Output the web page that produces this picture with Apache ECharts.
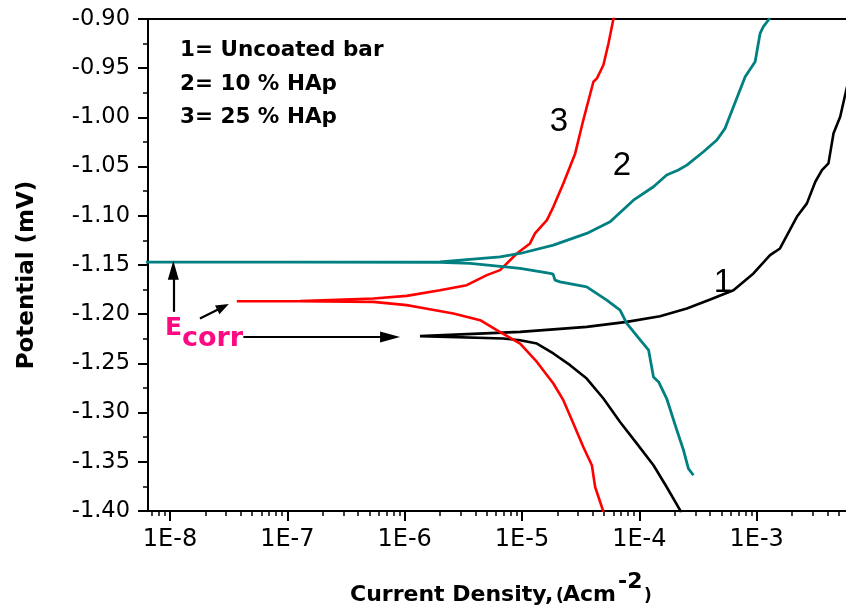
<!DOCTYPE html>
<html><head><meta charset="utf-8">
<script src="https://cdn.jsdelivr.net/npm/echarts@6/dist/echarts.min.js"></script>
<style>html,body{margin:0;padding:0;background:#fff}#c{width:846px;height:614px}</style>
</head><body><div id="c"></div>
<script>
// ---- data (current density A/cm2, potential V) ----
const uncoatedCurrent = [2.26e-4, 2.23e-4, 1.71e-4, 1.32e-4, 9.53e-5, 6.85e-5, 4.94e-5, 3.56e-5, 2.57e-5, 1.85e-5, 1.34e-5, 9.64e-6, 6.93e-6, 1.35e-6, 1.31e-6, 1.35e-6, 9.64e-6, 3.56e-5, 7.81e-5, 1.50e-4, 2.54e-4, 4.02e-4, 6.34e-4, 9.39e-4, 1.30e-3, 1.58e-3, 2.20e-3, 2.68e-3, 3.16e-3, 3.60e-3, 4.09e-3, 4.52e-3, 5.15e-3, 5.80e-3, 6.30e-3];
const uncoatedPotential = [-1.4020, -1.3993, -1.3756, -1.3535, -1.3315, -1.3095, -1.2857, -1.2654, -1.2518, -1.2399, -1.2298, -1.2264, -1.2247, -1.2223, -1.2218, -1.2213, -1.2180, -1.2129, -1.2078, -1.2020, -1.1942, -1.1850, -1.1756, -1.1586, -1.1400, -1.1332, -1.1010, -1.0874, -1.0654, -1.0535, -1.0467, -1.0162, -0.9993, -0.9722, -0.9550];

const hap10Current = [2.89e-4, 2.62e-4, 2.38e-4, 2.09e-4, 1.71e-4, 1.46e-4, 1.32e-4, 1.20e-4, 1.02e-4, 7.81e-5, 6.85e-5, 5.28e-5, 3.56e-5, 2.11e-5, 1.91e-5, 1.84e-5, 1.74e-5, 9.64e-6, 3.61e-6, 2.00e-6, 1.28e-7, 5.50e-9, 1.28e-7, 2.00e-6, 6.50e-6, 9.64e-6, 1.85e-5, 3.56e-5, 5.64e-5, 8.91e-5, 1.32e-4, 1.71e-4, 2.15e-4, 2.54e-4, 3.52e-4, 4.58e-4, 5.38e-4, 6.34e-4, 7.98e-4, 9.70e-4, 1.07e-3, 1.14e-3, 1.26e-3, 1.30e-3];
const hap10Potential = [-1.3637, -1.3569, -1.3383, -1.3180, -1.2857, -1.2688, -1.2637, -1.2366, -1.2264, -1.2094, -1.1959, -1.1857, -1.1722, -1.1671, -1.1654, -1.1593, -1.1586, -1.1535, -1.1484, -1.1474, -1.1471, -1.1471, -1.1471, -1.1468, -1.1417, -1.1383, -1.1298, -1.1179, -1.1061, -1.0841, -1.0705, -1.0586, -1.0535, -1.0485, -1.0349, -1.0230, -1.0111, -0.9892, -0.9587, -0.9434, -0.9145, -0.9078, -0.9010, -0.8990];

const hap25Current = [4.95e-5, 4.20e-5, 3.94e-5, 3.33e-5, 2.74e-5, 2.25e-5, 1.85e-5, 1.34e-5, 9.64e-6, 6.10e-6, 4.40e-6, 2.60e-6, 1.35e-6, 1.04e-6, 5.41e-7, 1.28e-7, 3.71e-8, 1.28e-7, 5.41e-7, 1.04e-6, 2.00e-6, 3.38e-6, 5.01e-6, 6.50e-6, 9.04e-6, 1.17e-5, 1.29e-5, 1.63e-5, 1.85e-5, 2.25e-5, 2.84e-5, 3.33e-5, 4.06e-5, 4.35e-5, 4.94e-5, 5.46e-5, 6.01e-5, 6.10e-5];
const hap25Potential = [-1.4010, -1.3756, -1.3535, -1.3349, -1.3111, -1.2874, -1.2704, -1.2485, -1.2298, -1.2162, -1.2061, -1.1993, -1.1932, -1.1908, -1.1875, -1.1868, -1.1868, -1.1866, -1.1840, -1.1814, -1.1756, -1.1705, -1.1603, -1.1552, -1.1383, -1.1281, -1.1179, -1.1044, -1.0909, -1.0671, -1.0366, -1.0027, -0.9638, -0.9603, -0.9468, -0.9247, -0.9000, -0.8980];

const xTickValues = [1e-8, 1e-7, 1e-6, 1e-5, 1e-4, 1e-3];
const xTickLabels = ['1E-8', '1E-7', '1E-6', '1E-5', '1E-4', '1E-3'];
const legendLines = ['1= Uncoated bar', '2= 10 % HAp', '3= 25 % HAp'];
const curveLabels = ['1', '2', '3'];

// Ecorr arrows in data coordinates [current, potential]
const ecorrArrows = [
  [[1.067e-8, -1.1976], [1.067e-8, -1.1554]],
  [[1.80e-8, -1.2044], [2.83e-8, -1.1926]],
  [[4.22e-8, -1.2231], [7.51e-7, -1.2231]]
];
const ecorrArrowHeads = [[11, 19], [10, 13], [11, 20]];

// ---- build ----
const xMin = Math.pow(10, -8.1876), xMax = Math.pow(10, -2.2387);
const zip = (a, b) => a.map((v, i) => [v, b[i]]);
const minorVals = [];
for (let e = -9; e <= -3; e++) for (let k = 2; k <= 9; k++) {
  const v = k * Math.pow(10, e);
  if (v >= xMin && v <= xMax) minorVals.push(v);
}
const FONT = 'DejaVu Sans';
const chart = echarts.init(document.getElementById('c'), null, {renderer: 'canvas'});
const lineSeries = (name, cur, pot, color, w) => ({
  name, type: 'line', data: zip(cur, pot), showSymbol: false, symbol: 'none',
  lineStyle: {color, width: w}, itemStyle: {color}, clip: true, silent: true, z: 3
});
const blackSeries = lineSeries('Uncoated bar', uncoatedCurrent, uncoatedPotential, '#000000', 2.6);
blackSeries.markLine = {
  silent: true, animation: false, label: {show: false},
  lineStyle: {color: '#000', width: 2.2, type: 'solid'},
  emphasis: {disabled: true},
  data: ecorrArrows.map((a, i) => [
    {coord: a[0], symbol: 'none'},
    {coord: a[1], symbol: 'triangle', symbolSize: ecorrArrowHeads[i]}
  ])
};
const txt = (text, x, y, size, weight, color, align, va, family, rot) => ({
  type: 'text', x, y, rotation: rot || 0, silent: true, z: 100,
  style: {text, fontSize: size, fontWeight: weight, fontFamily: family || FONT, fill: color,
    align: align || 'left', verticalAlign: va || 'middle'}
});
const option = {
  animation: false,
  backgroundColor: '#ffffff',
  grid: {left: 148, right: 0, top: 19, bottom: 103, containLabel: false, outerBoundsMode: 'none', show: false},
  xAxis: [
    {type: 'log', logBase: 10, min: xMin, max: xMax, position: 'bottom', gridIndex: 0,
      axisLine: {show: true, onZero: false, lineStyle: {color: '#000', width: 2}},
      axisTick: {show: true, inside: false, length: 10, customValues: xTickValues, lineStyle: {color: '#000', width: 2}},
      minorTick: {show: false},
      axisLabel: {show: true, customValues: xTickValues, margin: 17, color: '#000', fontFamily: FONT, fontSize: 24,
        formatter: (v) => { const i = xTickValues.findIndex(t => Math.abs(Math.log10(t) - Math.log10(v)) < 1e-6); return i >= 0 ? xTickLabels[i] : ''; }},
      splitLine: {show: false}},
    {type: 'log', logBase: 10, min: xMin, max: xMax, position: 'bottom', gridIndex: 0,
      axisLine: {show: false, onZero: false},
      axisTick: {show: true, inside: false, length: 5, customValues: minorVals, lineStyle: {color: '#000', width: 1.5}},
      axisLabel: {show: false}, splitLine: {show: false}},
    {type: 'log', logBase: 10, min: xMin, max: xMax, position: 'top', gridIndex: 0,
      axisLine: {show: true, onZero: false, lineStyle: {color: '#000', width: 2}},
      axisTick: {show: false}, axisLabel: {show: false}, splitLine: {show: false}}
  ],
  yAxis: [{type: 'value', min: -1.4, max: -0.9, interval: 0.05,
    axisLine: {show: true, onZero: false, lineStyle: {color: '#000', width: 2}},
    axisTick: {show: true, inside: false, length: 10, lineStyle: {color: '#000', width: 2}},
    minorTick: {show: true, splitNumber: 2, length: 5, lineStyle: {color: '#000', width: 1.5}},
    axisLabel: {margin: 18, color: '#000', fontFamily: FONT, fontSize: 22.5, formatter: (v) => v.toFixed(2)},
    splitLine: {show: false}}],
  series: [
    blackSeries,
    lineSeries('25 % HAp', hap25Current, hap25Potential, '#ff0000', 2.6),
    lineSeries('10 % HAp', hap10Current, hap10Potential, '#008080', 2.8)
  ],
  graphic: [
    txt(legendLines[0], 180, 50, 21.5, 'bold', '#000'),
    txt(legendLines[1], 180, 84, 21.5, 'bold', '#000'),
    txt(legendLines[2], 180, 117, 21.5, 'bold', '#000'),
    txt(curveLabels[2], 559, 122, 33, 'normal', '#000', 'center', 'middle', 'Liberation Sans'),
    txt(curveLabels[1], 622, 166, 33, 'normal', '#000', 'center', 'middle', 'Liberation Sans'),
    txt(curveLabels[0], 723, 283, 33, 'normal', '#000', 'center', 'middle', 'Liberation Sans'),
    txt('E', 165, 328, 25, 'bold', '#ff0a82'),
    txt('corr', 182, 339, 27, 'bold', '#ff0a82'),
    txt('Potential (mV)', 27, 275, 23, 'bold', '#000', 'center', 'middle', FONT, Math.PI / 2),
    txt('Current Density,', 350, 595, 22, 'bold', '#000'),
    txt('(', 556, 597, 17, 'bold', '#000'),
    txt('Acm', 563, 595, 22, 'bold', '#000'),
    txt('-2', 618, 582, 22, 'bold', '#000'),
    txt(')', 644, 597, 17, 'bold', '#000')
  ]
};
chart.setOption(option);
</script></body></html>
